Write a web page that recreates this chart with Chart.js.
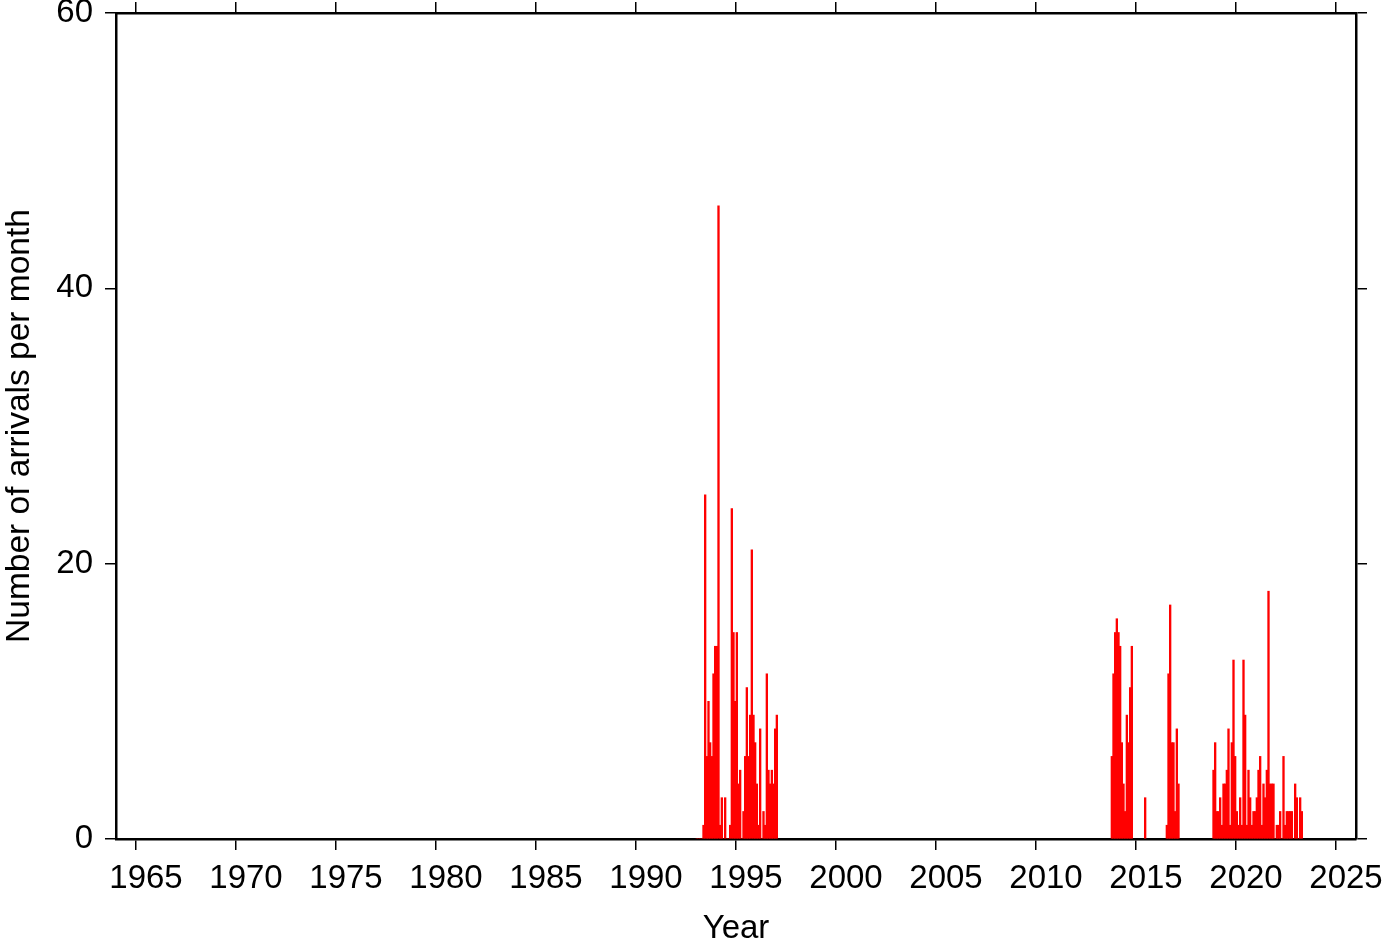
<!DOCTYPE html>
<html>
<head>
<meta charset="utf-8">
<script src="https://cdn.jsdelivr.net/npm/chart.js@4.4.1/dist/chart.umd.min.js"></script>
<style>
  html, body { margin: 0; padding: 0; background: #fff; }
  canvas { display: block; }
</style>
</head>
<body>
<canvas id="chart" width="1382" height="942"></canvas>
<script>
// monthly arrival counts, each burst starts at [year, month index 0-11]
const burst1993Start = [1993, 0];
const burst1993 = [0, 0, 0, 0, 1, 25, 6, 10, 7, 6, 12, 14, 14, 46, 1, 3, 0, 3, 0, 0, 1, 24, 15, 10, 15, 4, 5, 0, 2, 6, 11, 6, 9, 21, 9, 7, 4, 1, 8, 0, 2, 1, 12, 5, 4, 5, 4, 8, 9];
const burst2013Start = [2013, 9];
const burst2013 = [6, 12, 15, 16, 15, 14, 7, 4, 2, 9, 7, 11, 14];
const burst2015Start = [2015, 5];
const burst2015 = [3];
const burst2016Start = [2016, 6];
const burst2016 = [1, 12, 17, 7, 7, 2, 8, 4];
const burst2018Start = [2018, 10];
const burst2018 = [5, 7, 2, 2, 3, 1, 4, 4, 5, 8, 1, 7, 13, 6, 2, 1, 3, 1, 13, 9, 1, 5, 3, 1, 2, 2, 3, 5, 6, 1, 4, 3, 5, 18, 4, 4, 4, 0, 1, 1, 2, 0, 6, 1, 2, 2, 2, 2, 0, 4, 3, 0, 3, 2];

const yearTicks = [1965, 1970, 1975, 1980, 1985, 1990, 1995, 2000, 2005, 2010, 2015, 2020, 2025];
const countTicks = [0, 20, 40, 60];

function toPoints(start, counts) {
  return counts.map((n, i) => ({ x: start[0] + (start[1] + i + 0.5) / 12, y: n }));
}

const points = [
  ...toPoints(burst1993Start, burst1993),
  ...toPoints(burst2013Start, burst2013),
  ...toPoints(burst2015Start, burst2015),
  ...toPoints(burst2016Start, burst2016),
  ...toPoints(burst2018Start, burst2018),
];

const font = { family: "'Liberation Sans', Arial, Helvetica, sans-serif", size: 33 };
const tickGrid = { drawOnChartArea: false, drawTicks: true, tickLength: 11, color: "#000", lineWidth: 1.5, offset: false };
const frame = { display: true, color: "#000", width: 2.5 };

// fix the box sizes so the plot area sits where the reference has it
function fitBox(size) {
  return (s) => {
    if (s.isHorizontal()) s.height = size; else s.width = size;
    s.paddingTop = 0; s.paddingBottom = 0; s.paddingLeft = 0; s.paddingRight = 0;
  };
}

new Chart(document.getElementById("chart"), {
  type: "bar",
  data: {
    datasets: [{
      data: points,
      backgroundColor: "#ff0000",
      borderWidth: 0,
      barPercentage: 1,
      categoryPercentage: 1,
    }],
  },
  options: {
    responsive: false,
    animation: false,
    layout: { padding: 0 },
    plugins: { legend: { display: false }, tooltip: { enabled: false } },
    scales: {
      x: {
        type: "linear",
        position: "bottom",
        offset: false,
        min: 1964,
        max: 2026,
        afterBuildTicks: (s) => { s.ticks = yearTicks.map((v) => ({ value: v })); },
        afterFit: fitBox(103),
        ticks: { font, color: "#000", padding: 9, labelOffset: 10, maxRotation: 0, autoSkip: false, callback: (v) => String(v) },
        grid: tickGrid,
        border: frame,
        title: { display: true, text: "Year", font, color: "#000", padding: { top: 0, bottom: -7 } },
      },
      xTop: {
        type: "linear",
        position: "top",
        offset: false,
        min: 1964,
        max: 2026,
        afterBuildTicks: (s) => { s.ticks = yearTicks.map((v) => ({ value: v })); },
        afterFit: fitBox(13),
        ticks: { display: false },
        grid: tickGrid,
        border: frame,
      },
      y: {
        type: "linear",
        position: "left",
        min: 0,
        max: 60,
        afterBuildTicks: (s) => { s.ticks = countTicks.map((v) => ({ value: v })); },
        afterFit: fitBox(116),
        ticks: { font, color: "#000", padding: 12 },
        grid: tickGrid,
        border: frame,
        title: { display: true, text: "Number of arrivals per month", font: { ...font, size: 33.5 }, color: "#000", padding: 0 },
      },
      yRight: {
        type: "linear",
        position: "right",
        min: 0,
        max: 60,
        afterBuildTicks: (s) => { s.ticks = countTicks.map((v) => ({ value: v })); },
        afterFit: fitBox(26),
        ticks: { display: false },
        grid: tickGrid,
        border: frame,
      },
    },
  },
});
</script>
</body>
</html>
